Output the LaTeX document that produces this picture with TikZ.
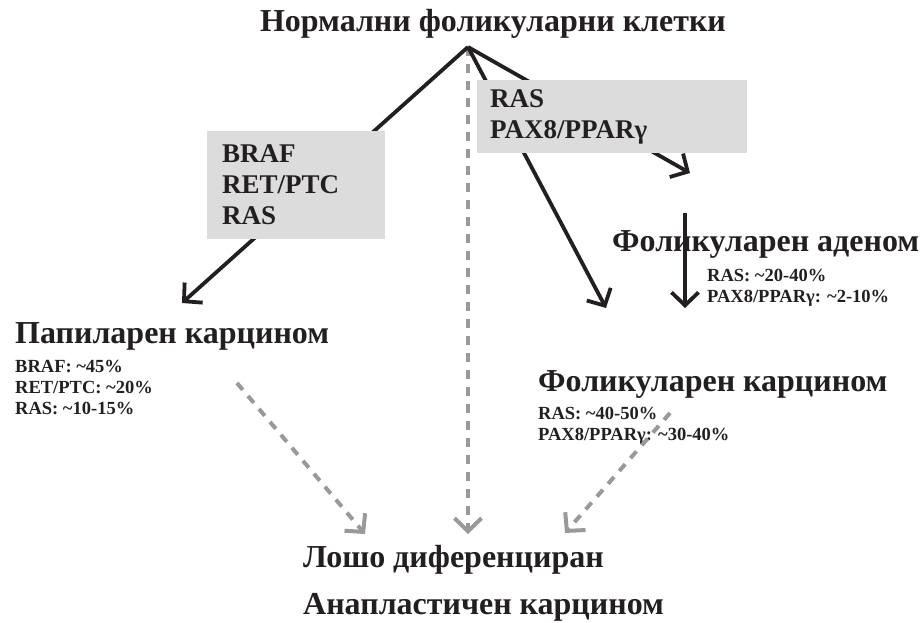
\documentclass[tikz,border=0pt]{standalone}
\usepackage{fontspec}
\setmainfont{Liberation Serif}
\usetikzlibrary{arrows.meta,backgrounds}
\definecolor{ink}{HTML}{231F20}
\definecolor{boxgray}{HTML}{DCDCDC}
\definecolor{dashgray}{HTML}{999999}
\tikzset{
  big/.style={font=\fontsize{32}{36}\selectfont\bfseries, text=ink, inner sep=0pt},
  small/.style={font=\fontsize{18.5}{21}\selectfont\bfseries, text=ink, inner sep=0pt, align=left},
  mutbox/.style={font=\fontsize{27}{31}\selectfont\bfseries, text=ink, fill=boxgray, align=left, inner ysep=0pt, anchor=north west},
  solidarrow/.style={draw=ink, line width=3.8pt, -{Straight Barb[length=13pt,width=27pt,line width=3.8pt]}},
  dasharrow/.style={draw=dashgray, line width=4pt, dash pattern=on 9pt off 8pt, -{Straight Barb[length=13pt,width=27pt,line width=4pt]}},
}
\begin{document}
\begin{tikzpicture}[x=1pt,y=-1pt]
\useasboundingbox (0,0) rectangle (922,622);
% texts
\node[big, anchor=base] (title) at (493,31) {Нормални фоликуларни клетки};
\node[mutbox, minimum width=178pt, minimum height=108pt, text width=148pt, inner xsep=15pt] (boxL) at (207,131) {BRAF\\RET/PTC\\RAS};
\node[mutbox, minimum width=270pt, minimum height=73pt, text width=244pt, inner xsep=13pt] (boxR) at (477,80) {RAS\\PAX8/PPARγ};
\node[big, anchor=base west] (pap) at (15,343) {Папиларен карцином};
\node[small, anchor=base west] (papm) at (15,414) {BRAF: \textasciitilde45\%\\RET/PTC: \textasciitilde20\%\\RAS: \textasciitilde10-15\%};
\node[big, anchor=base west] (folad) at (612,251) {Фоликуларен аденом};
\node[small, anchor=base west] (foladm) at (707,302) {RAS: \textasciitilde20-40\%\\PAX8/PPARγ: \textasciitilde2-10\%};
\node[big, anchor=base west] (folca) at (538,391) {Фоликуларен карцином};
\node[small, anchor=base west] (folcam) at (538,440) {RAS: \textasciitilde40-50\%\\PAX8/PPARγ: \textasciitilde30-40\%};
\node[big, anchor=base west] (poor) at (303,567) {Лошо диференциран};
\node[big, anchor=base west] (anapl) at (303,614) {Анапластичен карцином};
% connector ends
\coordinate (apex) at (468,47);
\coordinate (papTip) at (182,303);
\coordinate (adTip) at (690,173);
\coordinate (caTip) at (606,308);
\coordinate (adTop) at (685,213);
\coordinate (adBot) at (685,308);
\coordinate (papOut) at (237,383);
\coordinate (caOut) at (670,413);
\coordinate (tipL) at (365,534);
\coordinate (tipC) at (468,534);
\coordinate (tipR) at (565,533);
\begin{scope}[on background layer]
\draw[dasharrow] (apex) -- (tipC);
\draw[solidarrow] (apex) -- (papTip);
\draw[solidarrow] (apex) -- (adTip);
\draw[solidarrow] (apex) -- (caTip);
\end{scope}
\draw[solidarrow] (adTop) -- (adBot);
\draw[dasharrow] (papOut) -- (tipL);
\draw[dasharrow] (caOut) -- (tipR);
\end{tikzpicture}
\end{document}
